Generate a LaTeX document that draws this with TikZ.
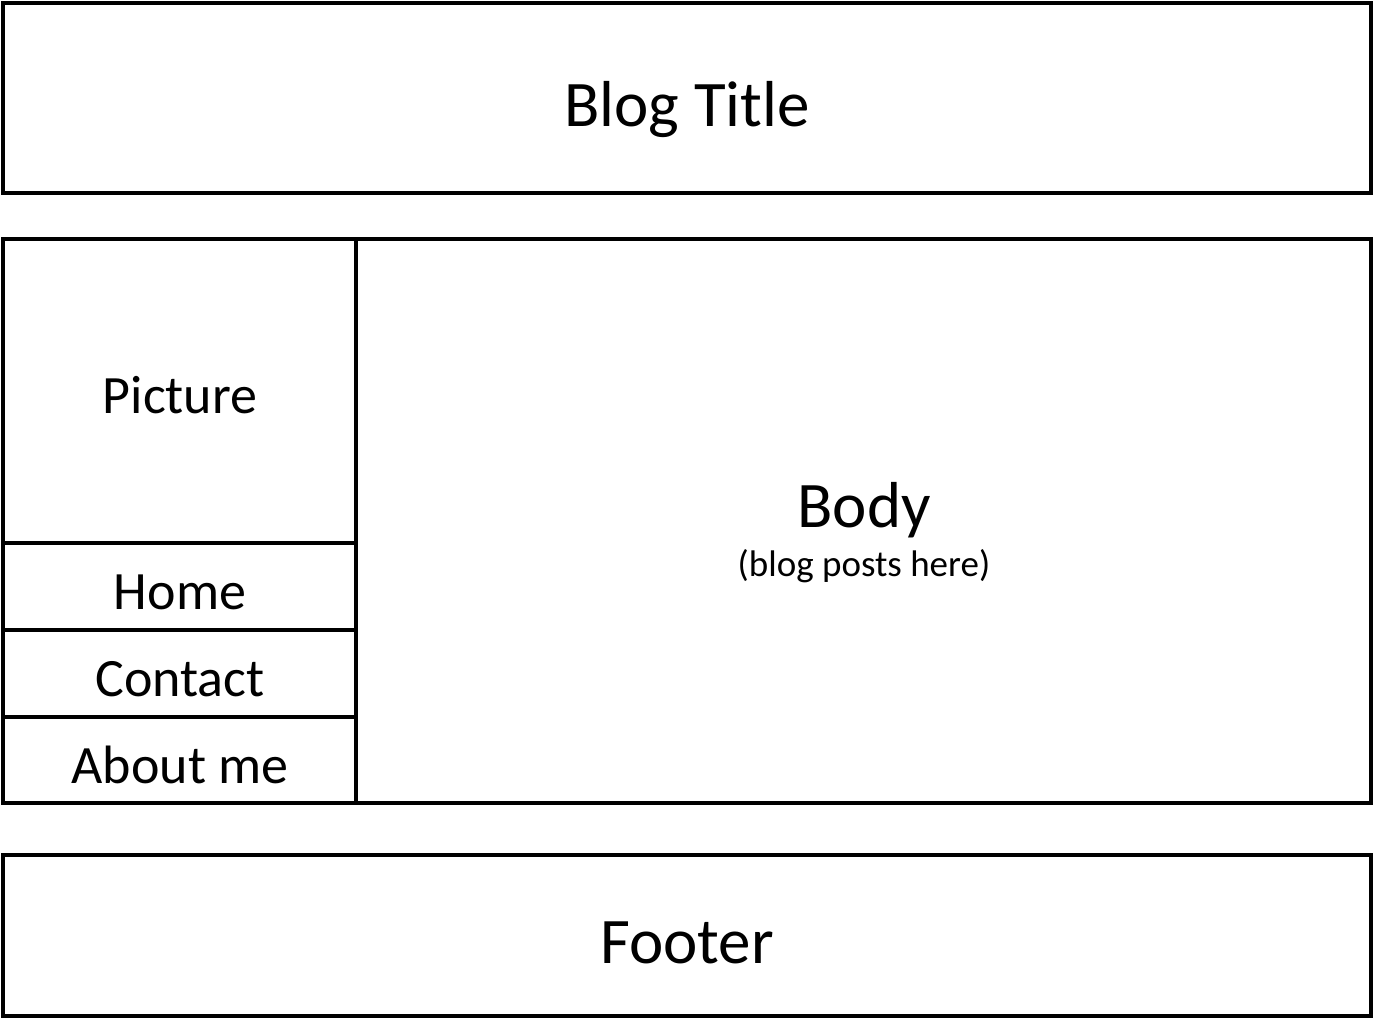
\documentclass[tikz,border=0pt]{standalone}
\usepackage{fontspec}
\setmainfont{Carlito}
\begin{document}
\begin{tikzpicture}[x=1pt,y=-1pt,
  panel/.style={draw=black, line width=3.4pt, rectangle, inner sep=0pt, outer sep=0pt, anchor=north west},
  big/.style={font=\fontsize{65}{78}\selectfont, anchor=base, inner sep=0pt},
  mid/.style={font=\fontsize{54}{64}\selectfont, anchor=base, inner sep=0pt},
  small/.style={font=\fontsize{37}{44}\selectfont, anchor=base, inner sep=0pt}]
\useasboundingbox[fill=white] (0,0) rectangle (1374,1019);

% header, main area and footer
\node[panel, minimum width=1368pt, minimum height=190pt] (header) at (3,3) {};
\node[panel, minimum width=1368pt, minimum height=564pt] (main) at (3,239) {};
\node[panel, minimum width=1368pt, minimum height=161pt] (footer) at (3,855) {};

% sidebar cells
\node[panel, minimum width=353pt, minimum height=304pt] (picture) at (3,239) {};
\node[panel, minimum width=353pt, minimum height=87pt] (home) at (3,543) {};
\node[panel, minimum width=353pt, minimum height=87pt] (contact) at (3,630) {};
\node[panel, minimum width=353pt, minimum height=86pt] (about) at (3,717) {};

% content cell
\node[panel, minimum width=1015pt, minimum height=564pt] (body) at (356,239) {};

% labels
\node[big] (headerlabel) at (687,127) {Blog Title};
\node[big] (bodylabel) at (864,527) {Body};
\node[small] (bodynote) at (864,576) {(blog posts here)};
\node[big] (footerlabel) at (687,963) {Footer};
\node[mid] (picturelabel) at (180,413) {Picture};
\node[mid] (homelabel) at (180,609) {Home};
\node[mid] (contactlabel) at (180,696) {Contact};
\node[mid] (aboutlabel) at (180,783) {About me};
\end{tikzpicture}
\end{document}
